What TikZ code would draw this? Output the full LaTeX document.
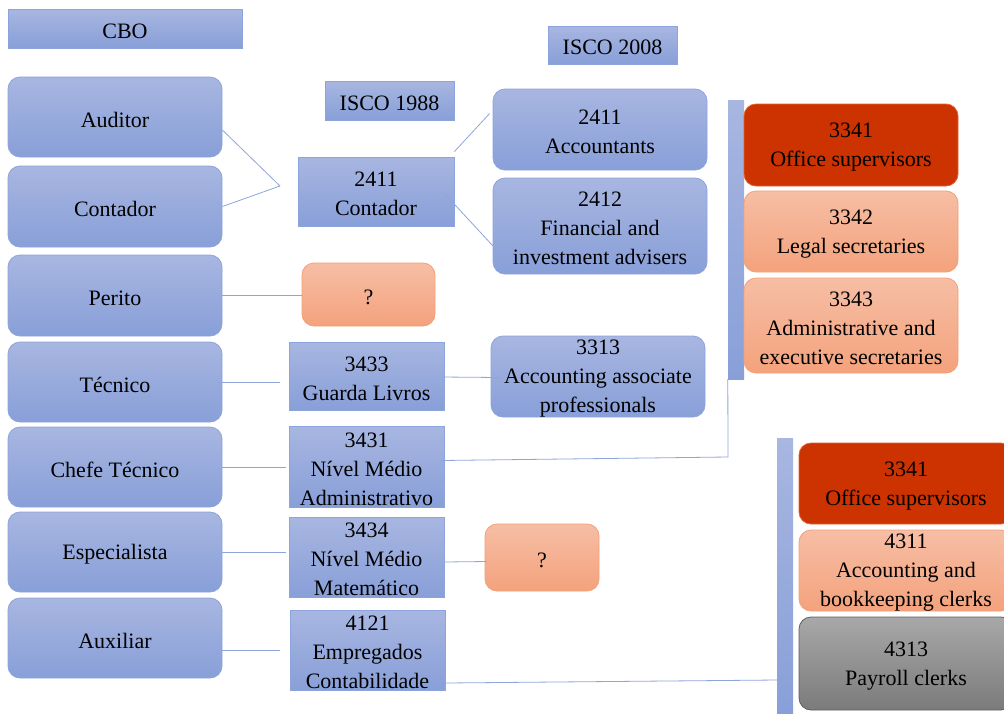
\documentclass[tikz,border=0pt]{standalone}
\usepackage{fontspec}
\setmainfont{Liberation Serif}
\usetikzlibrary{calc}

\definecolor{bluetop}{HTML}{A8B6E1}
\definecolor{bluebot}{HTML}{889FD8}
\definecolor{blueedge}{HTML}{8DA3DB}
\definecolor{salmtop}{HTML}{F6BEA5}
\definecolor{salmbot}{HTML}{F4A27C}
\definecolor{salmedge}{HTML}{F3A178}
\definecolor{redfill}{HTML}{CC3300}
\definecolor{rededge}{HTML}{E2622C}
\definecolor{graytop}{HTML}{A8A8A8}
\definecolor{graybot}{HTML}{7B7B7B}
\definecolor{grayedge}{HTML}{5E5E5E}
\definecolor{linkcol}{HTML}{8FA6DC}

\tikzset{
  base/.style={inner sep=0pt, line width=0.8pt},
  boxtext/.style={inner sep=0pt, align=center, font=\fontsize{22}{29}\selectfont},
  bluebox/.style={base, rectangle, top color=bluetop, bottom color=bluebot, draw=blueedge},
  blueround/.style={bluebox, rounded corners=12pt},
  salmround/.style={base, top color=salmtop, bottom color=salmbot, draw=salmedge, rounded corners=12pt},
  redround/.style={base, fill=redfill, draw=rededge, rounded corners=12pt},
  grayround/.style={base, top color=graytop, bottom color=graybot, draw=grayedge, rounded corners=12pt},
  barbox/.style={inner sep=0pt, top color=bluetop, bottom color=bluebot, draw=none},
  link/.style={draw=linkcol, line width=0.8pt}
}

% \boxat{style}{name}{x1}{y1}{x2}{y2}{text}
% the text sits a little below the geometric centre of the box
\newcommand{\boxat}[7]{%
  \node[#1, minimum width={(#5-#3)*1pt}, minimum height={(#6-#4)*1pt},
        label={[boxtext, yshift=-2.5pt]center:#7}]
    (#2) at ({(#3+#5)/2},{(#4+#6)/2}) {};}

\begin{document}
\begin{tikzpicture}[x=1pt,y=-1pt]
\clip (0,0) rectangle (1004,713);
\fill[white] (0,0) rectangle (1004,713);

% column headers
\boxat{bluebox}{cbo}{8}{9}{242}{48}{CBO}
\boxat{bluebox}{i88}{325}{81}{454}{120}{ISCO 1988}
\boxat{bluebox}{i08}{548}{26}{677}{64}{ISCO 2008}

% CBO titles
\boxat{blueround}{aud}{8}{77}{222}{157}{Auditor}
\boxat{blueround}{con}{8}{166}{222}{247}{Contador}
\boxat{blueround}{per}{8}{255}{222}{336}{Perito}
\boxat{blueround}{tec}{8}{342}{222}{422}{Técnico}
\boxat{blueround}{che}{8}{427}{222}{507}{Chefe Técnico}
\boxat{blueround}{esp}{8}{512}{222}{592}{Especialista}
\boxat{blueround}{aux}{8}{598}{222}{678}{Auxiliar}

% ISCO 1988 groups
\boxat{bluebox}{c11}{298}{157}{454}{226}{2411\\Contador}
\boxat{salmround}{q1}{302}{263}{435}{326}{?}
\boxat{bluebox}{g33}{289}{342}{444}{410}{3433\\Guarda Livros}
\boxat{bluebox}{n31}{289}{426}{444}{507}{3431\\Nível Médio\\Administrativo}
\boxat{bluebox}{n34}{289}{517}{444}{597}{3434\\Nível Médio\\Matemático}
\boxat{bluebox}{e21}{290}{610}{445}{690}{4121\\Empregados\\Contabilidade}

% ISCO 2008 groups
\boxat{blueround}{acc}{493}{89}{707}{170}{2411\\Accountants}
\boxat{blueround}{fin}{493}{178}{707}{274}{2412\\Financial and\\investment advisers}
\boxat{blueround}{a13}{491}{336}{705}{417}{3313\\Accounting associate\\professionals}
\boxat{salmround}{q2}{485}{524}{599}{591}{?}

% bracket of 3431
\node[barbox, minimum width=16pt, minimum height=279pt] (bar1) at (736,239.5) {};
\boxat{redround}{o41}{744}{104}{958}{186}{3341\\Office supervisors}
\boxat{salmround}{l42}{744}{191}{958}{272}{3342\\Legal secretaries}
\boxat{salmround}{a43}{744}{278}{958}{373}{3343\\Administrative and\\executive secretaries}

% bracket of 4121
\node[barbox, minimum width=16pt, minimum height=278pt] (bar2) at (785,577) {};
\boxat{redround}{o41b}{799}{443}{1013}{524}{3341\\Office supervisors}
\boxat{salmround}{b11}{799}{530}{1013}{611}{4311\\Accounting and\\bookkeeping clerks}
\boxat{grayround}{p13}{799}{617}{1013}{710}{4313\\Payroll clerks}

% free line ends
\coordinate (j1) at (280,186);
\coordinate (jt) at (280,382);
\coordinate (jc) at (286,467);
\coordinate (je) at (286,552);
\coordinate (ja) at (280,650);
\coordinate (k1) at (728,457);
\coordinate (k2) at (777,680);

% connectors
\draw[link] ($(aud.east)+(0,13)$) -- (j1);
\draw[link] (con.east) -- (j1);
\draw[link] ($(c11.north east)+(0,-5)$) -- ($(acc.west)+(-3,-16)$);
\draw[link] ($(c11.east)+(-10,2)$) -- ($(fin.west)+(6,26)$);
\draw[link] (per.east) -- (per.east -| q1.west);
\draw[link] ($(tec.east)+(-4,0)$) -- (jt);
\draw[link] ($(g33.east)+(-3,1)$) -- ($(a13.west)+(9,1)$);
\draw[link] (che.east) -- (jc);
\draw[link] ($(n31.east)+(-3,-6)$) -- (k1) -- (bar1.south west);
\draw[link] (esp.east) -- (je);
\draw[link] ($(n34.east)+(0,5)$) -- ($(q2.west)+(2,4)$);
\draw[link] ($(aux.east)+(-4,12)$) -- (ja);
\draw[link] ($(e21.east)+(0,33)$) -- (k2);
\end{tikzpicture}
\end{document}
